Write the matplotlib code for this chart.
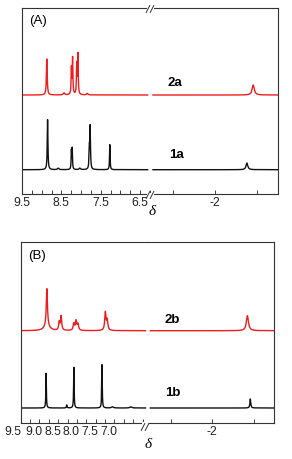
import numpy as np
import matplotlib
matplotlib.use('Agg')
import matplotlib.pyplot as plt
from matplotlib.patches import Rectangle
from matplotlib.lines import Line2D
from matplotlib.ticker import FixedLocator, MultipleLocator
import matplotlib.transforms as mtransforms

W, H = 292, 460
plt.rcParams['font.family'] = ['Liberation Sans', 'DejaVu Sans']

RED = '#ee1c1c'
BLACK = '#111111'

# ---------------- data (peak lists) ----------------
# Panel A, compound 2a (red)
a2_ppm = [8.87, 8.245, 8.215, 8.11, 8.08, 8.43, 7.84, -2.91]
a2_h   = [36, 26, 36, 30, 40, 2, 1.5, 10]
a2_w   = [0.012, 0.009, 0.009, 0.009, 0.009, 0.02, 0.02, 0.03]
# Panel A, compound 1a (black)
a1_ppm = [8.85, 8.245, 8.225, 7.79, 7.77, 7.27, 8.58, 8.03, -2.76]
a1_h   = [50, 18, 20, 18, 42, 25, 1.5, 1.5, 6.7]
a1_w   = [0.010, 0.008, 0.008, 0.009, 0.010, 0.008, 0.02, 0.02, 0.025]
# Panel B, compound 2b (red)
b2_ppm = [8.55, 8.55, 8.22, 8.17, 7.83, 7.77, 7.72, 6.99, 6.94, -2.85]
b2_h   = [37, 5, 8, 14, 7, 9.5, 6, 18, 10, 15]
b2_w   = [0.018, 0.08, 0.018, 0.018, 0.02, 0.02, 0.02, 0.02, 0.02, 0.03]
# Panel B, compound 1b (black)
b1_ppm = [8.57, 7.83, 7.08, 8.02, 6.80, 6.31, -2.92]
b1_h   = [34.7, 40.7, 43.3, 3, 1.2, 1.2, 9]
b1_w   = [0.008, 0.008, 0.008, 0.01, 0.03, 0.03, 0.012]

# baselines (in pixel-height units of each panel)
a_base = {'2a': 99.0, '1a': 24.3}
b_base = {'2b': 92.6, '1b': 15.3}

a_left_ticks = [9.5, 8.5, 7.5, 6.5]
b_left_ticks = [9.0, 8.5, 8.0, 7.5, 7.0]
right_ticks = [-2]
right_minor = [-1, -3]

TICK_FS = 8.8


def spectrum(x, centers, heights, widths):
    y = np.zeros_like(x)
    for c, h, w in zip(centers, heights, widths):
        y += h * w ** 2 / ((x - c) ** 2 + w ** 2)
    return y


def fx(x):
    return x / W


def fy(y):
    return 1 - y / H


fig = plt.figure(figsize=(W / 100, H / 100), dpi=100)


def make_panel(xl, xb, xr, ytop, ybot, lim_left, lim_right, ylim_top,
               left_ticks, data_left, data_right, series, label_shift=0):
    axL = fig.add_axes([fx(xl), fy(ybot), (xb - xl) / W, (ybot - ytop) / H])
    axR = fig.add_axes([fx(xb), fy(ybot), (xr - xb) / W, (ybot - ytop) / H])
    axL.set_xlim(*lim_left)
    axR.set_xlim(*lim_right)
    for ax in (axL, axR):
        ax.set_ylim(0, ylim_top)
        ax.patch.set_alpha(0)
        for s in ax.spines.values():
            s.set_linewidth(0.8)
            s.set_color('#333333')
        ax.tick_params(which='both', direction='in', length=3, width=0.6,
                       labelsize=TICK_FS, pad=1.2, top=False, left=False,
                       labelleft=False, colors='#222222')
        ax.set_yticks([])
    axL.spines['right'].set_visible(False)
    axR.spines['left'].set_visible(False)
    axL.set_xticks(left_ticks)
    axL.set_xticklabels([f'{t:.1f}' for t in left_ticks])
    axL.xaxis.set_minor_locator(MultipleLocator(0.25))
    axR.set_xticks(right_ticks)
    axR.set_xticklabels([f'{t:d}' for t in right_ticks])
    axR.xaxis.set_minor_locator(FixedLocator(right_minor))
    if label_shift:
        off = mtransforms.ScaledTranslation(label_shift / 72, 0, fig.dpi_scale_trans)
        for lab in axL.get_xticklabels():
            lab.set_transform(lab.get_transform() + off)

    xL = np.linspace(data_left[0], data_left[1], 9000)
    xR = np.linspace(data_right[0], data_right[1], 6000)
    for ppm, hts, wds, base, color in series:
        xs = np.sort(np.concatenate([xL, [p for p in ppm if data_left[1] < p < data_left[0]]]))
        axL.plot(xs, base + spectrum(xs, ppm, hts, wds), color=color, lw=1.0)
        xs = np.sort(np.concatenate([xR, [p for p in ppm if data_right[1] < p < data_right[0]]]))
        axR.plot(xs, base + spectrum(xs, ppm, hts, wds), color=color, lw=1.0)
    return axL, axR


def add_break(xc, yc, ys):
    # white gap over spine and two slashes
    fig.add_artist(Rectangle((fx(xc - 3.5), fy(ys + 1.5)), 7 / W, 3 / H,
                             transform=fig.transFigure, facecolor='white',
                             edgecolor='none', zorder=5))
    for dx in (-2, 2):
        fig.add_artist(Line2D([fx(xc + dx - 1.8), fx(xc + dx + 1.8)],
                              [fy(yc + 3.5), fy(yc - 3.5)],
                              transform=fig.transFigure, color='#333333',
                              lw=0.7, zorder=6))


# Panel A
axAL, axAR = make_panel(22, 150, 278, 9, 195, (9.5, 6.25), (-0.45, -3.5), 186,
                        a_left_ticks, (9.5, 6.31), (-0.52, -3.5),
                        [(a2_ppm, a2_h, a2_w, a_base['2a'], RED),
                         (a1_ppm, a1_h, a1_w, a_base['1a'], BLACK)])
add_break(150, 196, 195)
add_break(150, 10, 9)

# Panel B
axBL, axBR = make_panel(21, 147, 274, 242.7, 424.3, (9.24, 5.88), (-0.43, -3.49), 181.6,
                        b_left_ticks, (9.24, 5.92), (-0.51, -3.49),
                        [(b2_ppm, b2_h, b2_w, b_base['2b'], RED),
                         (b1_ppm, b1_h, b1_w, b_base['1b'], BLACK)],
                        label_shift=2.7)
add_break(145, 428, 424.3)
# '9.5' tick label lying just left of panel B frame
fig.text(fx(13.3), fy(432.5), '9.5', fontsize=TICK_FS, ha='center', va='center', color='#222222')

# labels
lab_kw = dict(fontsize=9.5, fontweight='bold', ha='center', va='center')
fig.text(fx(175), fy(83), '2a', **lab_kw)
fig.text(fx(176), fy(155), '1a', **lab_kw)
fig.text(fx(171.7), fy(320), '2b', **lab_kw)
fig.text(fx(173.3), fy(393.3), '1b', **lab_kw)
fig.text(fx(29), fy(21), '(A)', fontsize=9.5, ha='left', va='center')
fig.text(fx(28.3), fy(256), '(B)', fontsize=9.5, ha='left', va='center')
d_kw = dict(fontsize=11, fontstyle='italic', ha='center', va='center',
            family=['Liberation Serif', 'DejaVu Serif'])
fig.text(fx(151.7), fy(212), 'δ', **d_kw)
fig.text(fx(148), fy(445), 'δ', **d_kw)

fig.savefig('out.png', dpi=100, facecolor='white')
